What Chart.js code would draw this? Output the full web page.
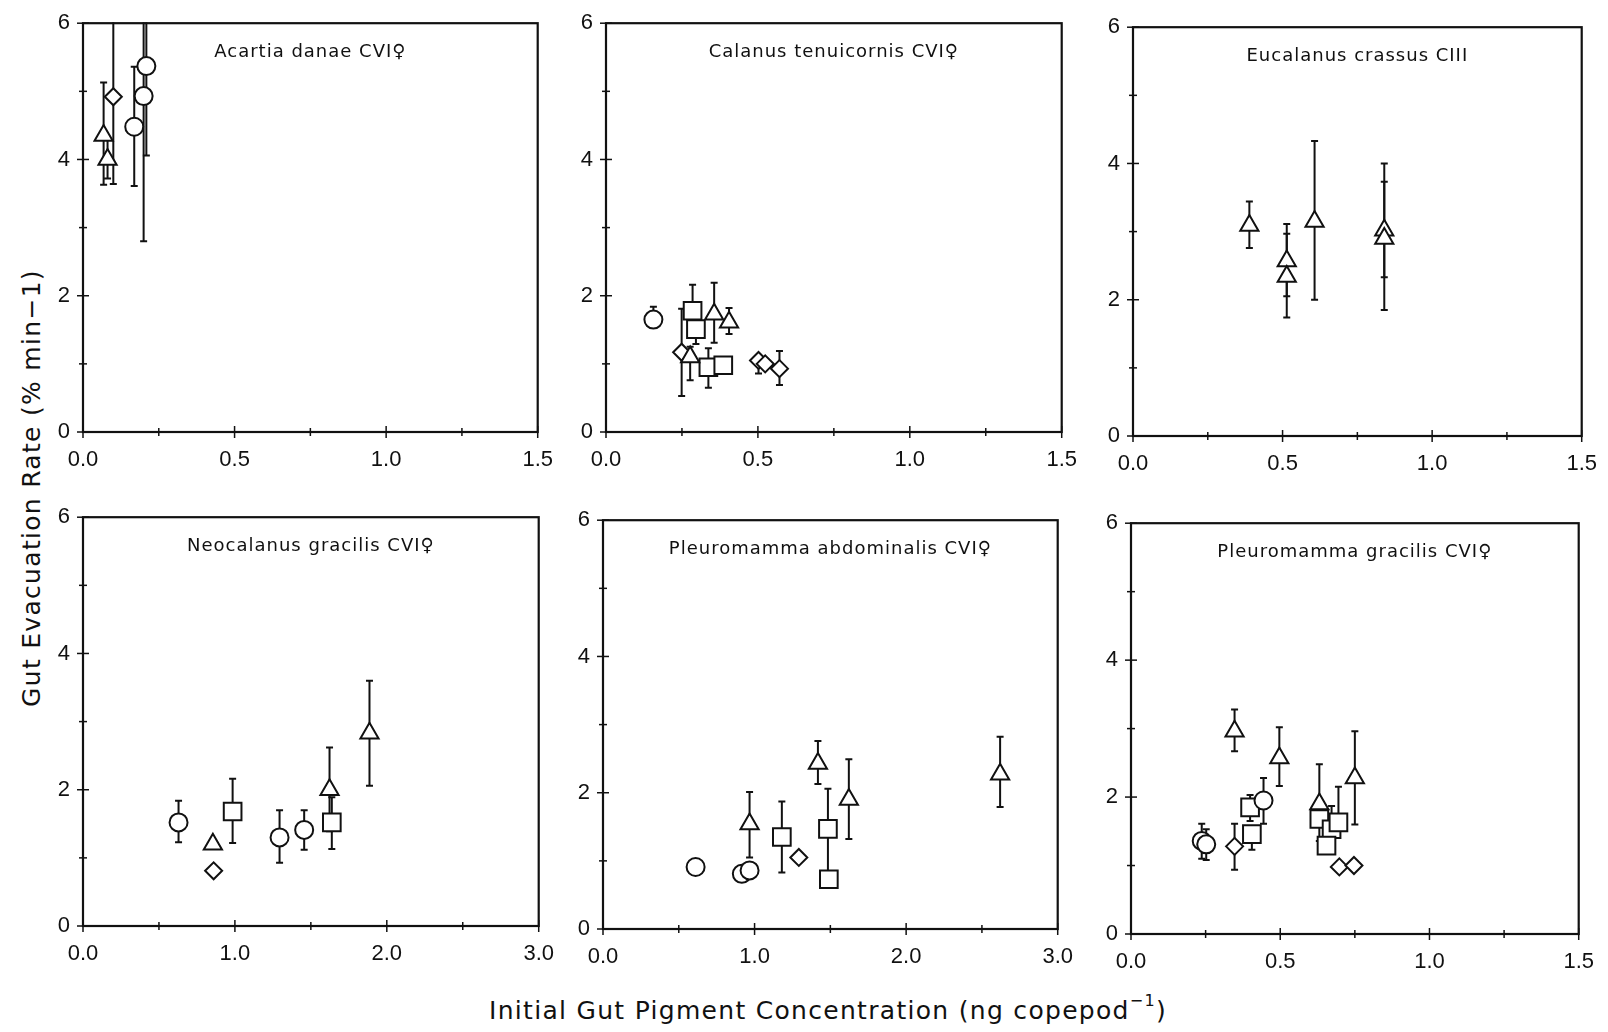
<!DOCTYPE html>
<html>
<head>
<meta charset="utf-8">
<script src="https://cdn.jsdelivr.net/npm/chart.js@4.4.1/dist/chart.umd.min.js"></script>
<style>
body{margin:0;background:#fff;width:1608px;height:1032px;position:relative;overflow:hidden;font-family:"DejaVu Sans",sans-serif;color:#111}
canvas{position:absolute}
#ylab{position:absolute;left:31px;top:488px;transform:translate(-50%,-50%) rotate(-90deg);white-space:nowrap;font-size:25px;letter-spacing:1.3px}
#xlab{position:absolute;left:828px;top:1010px;transform:translate(-50%,-50%);white-space:nowrap;font-size:25px;letter-spacing:1.3px}
#xlab sup{font-size:16px;position:relative;top:-4px}
</style>
</head>
<body>
<div id="ylab">Gut Evacuation Rate (% min−1)</div>
<div id="xlab">Initial Gut Pigment Concentration (ng copepod<sup>−1</sup>)</div>
<script>
var ink = "#111";

var titles = ["Acartia danae CVI♀", "Calanus tenuicornis CVI♀", "Eucalanus crassus CIII",
              "Neocalanus gracilis CVI♀", "Pleuromamma abdominalis CVI♀", "Pleuromamma gracilis CVI♀"];
var xMax = [1.5, 1.5, 1.5, 3.0, 3.0, 1.5];
var xMajor = [[0, 0.5, 1.0, 1.5], [0, 0.5, 1.0, 1.5], [0, 0.5, 1.0, 1.5],
              [0, 1.0, 2.0, 3.0], [0, 1.0, 2.0, 3.0], [0, 0.5, 1.0, 1.5]];
var yMajor = [0, 2, 4, 6];

// each point: x, y, lower and upper end of the error bar
var acartiaCircles = [{x:0.169,y:4.48,lo:3.61,hi:5.36},{x:0.209,y:5.37,lo:4.06,hi:6.8},{x:0.200,y:4.93,lo:2.80,hi:7.0}];
var acartiaTriangles = [{x:0.068,y:4.35,lo:3.63,hi:5.13},{x:0.081,y:4.0,lo:3.72,hi:4.3}];
var acartiaSquares = [];
var acartiaDiamonds = [{x:0.100,y:4.92,lo:3.64,hi:6.8}];

var calanusCircles = [{x:0.156,y:1.65,lo:1.65,hi:1.84}];
var calanusTriangles = [{x:0.277,y:1.10,lo:0.76,hi:1.25},{x:0.356,y:1.73,lo:1.31,hi:2.19},{x:0.405,y:1.61,lo:1.44,hi:1.82}];
var calanusSquares = [{x:0.285,y:1.78,lo:1.78,hi:2.16},{x:0.296,y:1.51,lo:1.29,hi:1.78},{x:0.337,y:0.95,lo:0.65,hi:1.23},{x:0.386,y:0.98,lo:0.98,hi:0.98}];
var calanusDiamonds = [{x:0.249,y:1.17,lo:0.53,hi:1.81},{x:0.502,y:1.05,lo:0.86,hi:1.05},{x:0.524,y:1.00,lo:1.00,hi:1.00},{x:0.571,y:0.93,lo:0.69,hi:1.19}];

var eucalanusCircles = [];
var eucalanusTriangles = [{x:0.389,y:3.09,lo:2.76,hi:3.44},{x:0.514,y:2.57,lo:2.05,hi:3.11},{x:0.514,y:2.34,lo:1.74,hi:2.97},
                          {x:0.607,y:3.15,lo:2.00,hi:4.33},{x:0.840,y:3.02,lo:2.33,hi:4.00},{x:0.840,y:2.90,lo:1.85,hi:3.73}];
var eucalanusSquares = [];
var eucalanusDiamonds = [];

var neocalanusCircles = [{x:0.629,y:1.52,lo:1.23,hi:1.84},{x:1.294,y:1.30,lo:0.93,hi:1.70},{x:1.456,y:1.41,lo:1.12,hi:1.70}];
var neocalanusTriangles = [{x:0.855,y:1.20,lo:1.20,hi:1.20},{x:1.623,y:2.00,lo:1.39,hi:2.62},{x:1.886,y:2.83,lo:2.06,hi:3.60}];
var neocalanusSquares = [{x:0.985,y:1.68,lo:1.22,hi:2.16},{x:1.638,y:1.52,lo:1.13,hi:1.89}];
var neocalanusDiamonds = [{x:0.86,y:0.81,lo:0.81,hi:0.81}];

var abdominalisCircles = [{x:0.611,y:0.91,lo:0.91,hi:0.91},{x:0.916,y:0.81,lo:0.81,hi:0.81},{x:0.967,y:0.86,lo:0.86,hi:0.86}];
var abdominalisTriangles = [{x:0.967,y:1.54,lo:1.05,hi:2.01},{x:1.418,y:2.43,lo:2.13,hi:2.76},{x:1.622,y:1.90,lo:1.32,hi:2.49},{x:2.62,y:2.27,lo:1.79,hi:2.82}];
var abdominalisSquares = [{x:1.18,y:1.35,lo:0.83,hi:1.87},{x:1.484,y:1.47,lo:0.85,hi:2.06},{x:1.49,y:0.73,lo:0.73,hi:0.73}];
var abdominalisDiamonds = [{x:1.292,y:1.05,lo:1.05,hi:1.05}];

var gracilisCircles = [{x:0.237,y:1.36,lo:1.10,hi:1.61},{x:0.252,y:1.31,lo:1.08,hi:1.53},{x:0.444,y:1.95,lo:1.61,hi:2.28}];
var gracilisTriangles = [{x:0.347,y:2.96,lo:2.67,hi:3.28},{x:0.497,y:2.57,lo:2.16,hi:3.02},{x:0.631,y:1.90,lo:1.90,hi:2.48},{x:0.750,y:2.28,lo:1.60,hi:2.96}];
var gracilisSquares = [{x:0.399,y:1.85,lo:1.65,hi:2.03},{x:0.405,y:1.46,lo:1.23,hi:1.46},{x:0.631,y:1.68,lo:1.36,hi:1.68},
                       {x:0.672,y:1.53,lo:1.53,hi:1.87},{x:0.695,y:1.63,lo:1.63,hi:2.15},{x:0.655,y:1.29,lo:1.29,hi:1.29}];
var gracilisDiamonds = [{x:0.347,y:1.28,lo:0.94,hi:1.61},{x:0.698,y:0.98,lo:0.98,hi:0.98},{x:0.747,y:1.00,lo:1.00,hi:1.00}];

var panelData = [
  [acartiaCircles, acartiaTriangles, acartiaSquares, acartiaDiamonds],
  [calanusCircles, calanusTriangles, calanusSquares, calanusDiamonds],
  [eucalanusCircles, eucalanusTriangles, eucalanusSquares, eucalanusDiamonds],
  [neocalanusCircles, neocalanusTriangles, neocalanusSquares, neocalanusDiamonds],
  [abdominalisCircles, abdominalisTriangles, abdominalisSquares, abdominalisDiamonds],
  [gracilisCircles, gracilisTriangles, gracilisSquares, gracilisDiamonds]
];

// plot box of each panel on the page: left, top, right, bottom
var boxes = [[83,19,538,432],[606,19,1062,432],[1133,23,1582,436],
             [83,513,539,926],[603,516,1058,929],[1131,519,1579,934]];
var padL = 50, padT = 14, padR = 22, padB = 40;

var shapes = [
  {style:'circle', r:9},
  {style:'triangle', r:10.5},
  {style:'rect', r:12.5},
  {style:'rectRot', r:8.5}
];

function line(ctx, x1, y1, x2, y2){
  ctx.beginPath(); ctx.moveTo(x1, y1); ctx.lineTo(x2, y2); ctx.stroke();
}

var errorBars = {
  id: 'errorBars',
  beforeDatasetsDraw: function(chart){
    var ctx = chart.ctx, a = chart.chartArea, ys = chart.scales.y;
    ctx.save();
    ctx.beginPath(); ctx.rect(a.left, a.top - 1, a.right - a.left, a.bottom - a.top + 1); ctx.clip();
    ctx.strokeStyle = ink; ctx.lineWidth = 2;
    chart.data.datasets.forEach(function(ds, i){
      var meta = chart.getDatasetMeta(i);
      ds.data.forEach(function(d, j){
        var px = meta.data[j].x;
        var py = ys.getPixelForValue(d.y);
        var pl = ys.getPixelForValue(d.lo), ph = ys.getPixelForValue(d.hi);
        if (d.lo < d.y) { line(ctx, px, py, px, pl); line(ctx, px - 3.5, pl, px + 3.5, pl); }
        if (d.hi > d.y) { line(ctx, px, py, px, ph); line(ctx, px - 3.5, ph, px + 3.5, ph); }
      });
    });
    ctx.restore();
  }
};

var frame = {
  id: 'frame',
  afterDraw: function(chart, args, opts){
    var ctx = chart.ctx, a = chart.chartArea;
    var xs = chart.scales.x, ys = chart.scales.y;
    ctx.save();
    ctx.strokeStyle = ink;
    ctx.lineWidth = 2.2;
    ctx.strokeRect(a.left, a.top, a.right - a.left, a.bottom - a.top);
    ctx.lineWidth = 1.5;
    xs.ticks.forEach(function(t){
      var px = xs.getPixelForValue(t.value), len = t.label ? 6 : 4;
      line(ctx, px, a.bottom - len, px, a.bottom + len);
    });
    ys.ticks.forEach(function(t){
      var py = ys.getPixelForValue(t.value), len = t.label ? 6 : 4;
      line(ctx, a.left - len, py, a.left + len, py);
    });
    ctx.fillStyle = ink;
    ctx.font = '18px "DejaVu Sans"';
    ctx.letterSpacing = '1px';
    ctx.textAlign = 'center';
    ctx.textBaseline = 'middle';
    ctx.fillText(opts.title, (a.left + a.right) / 2, a.top + 29);
    ctx.restore();
  }
};

function isMajor(v, list){
  return list.some(function(m){ return Math.abs(m - v) < 1e-6; });
}

boxes.forEach(function(b, k){
  var cv = document.createElement('canvas');
  var w = b[2] - b[0] + padL + padR, h = b[3] - b[1] + padT + padB;
  cv.width = w; cv.height = h;
  cv.style.left = (b[0] - padL) + 'px';
  cv.style.top = (b[1] - padT) + 'px';
  document.body.appendChild(cv);

  var datasets = panelData[k].map(function(pts, s){
    return {data: pts, pointStyle: shapes[s].style, pointRadius: shapes[s].r,
            borderColor: ink, backgroundColor: '#fff', borderWidth: 2, showLine: false};
  });
  var tickFont = {family: '"Liberation Sans", Arial, sans-serif', size: 22};

  new Chart(cv, {
    type: 'scatter',
    data: {datasets: datasets},
    options: {
      responsive: false,
      animation: false,
      devicePixelRatio: 1,
      events: [],
      layout: {padding: {top: padT, right: padR, left: 0, bottom: 0}},
      plugins: {legend: {display: false}, tooltip: {enabled: false}, frame: {title: titles[k]}},
      scales: {
        x: {
          type: 'linear', min: 0, max: xMax[k],
          grid: {display: false}, border: {display: false},
          ticks: {stepSize: xMax[k] / 6, autoSkip: false, maxRotation: 0, padding: 7, color: ink, font: tickFont,
            callback: function(v){ return isMajor(v, xMajor[k]) ? v.toFixed(1) : ''; }},
          afterFit: function(s){ s.height = padB; }
        },
        y: {
          min: 0, max: 6,
          grid: {display: false}, border: {display: false},
          ticks: {stepSize: 1, autoSkip: false, padding: 5, color: ink, font: tickFont,
            callback: function(v){ return isMajor(v, yMajor) ? String(v) : ''; }},
          afterFit: function(s){ s.width = padL; }
        }
      }
    },
    plugins: [errorBars, frame]
  });
});
</script>
</body>
</html>
